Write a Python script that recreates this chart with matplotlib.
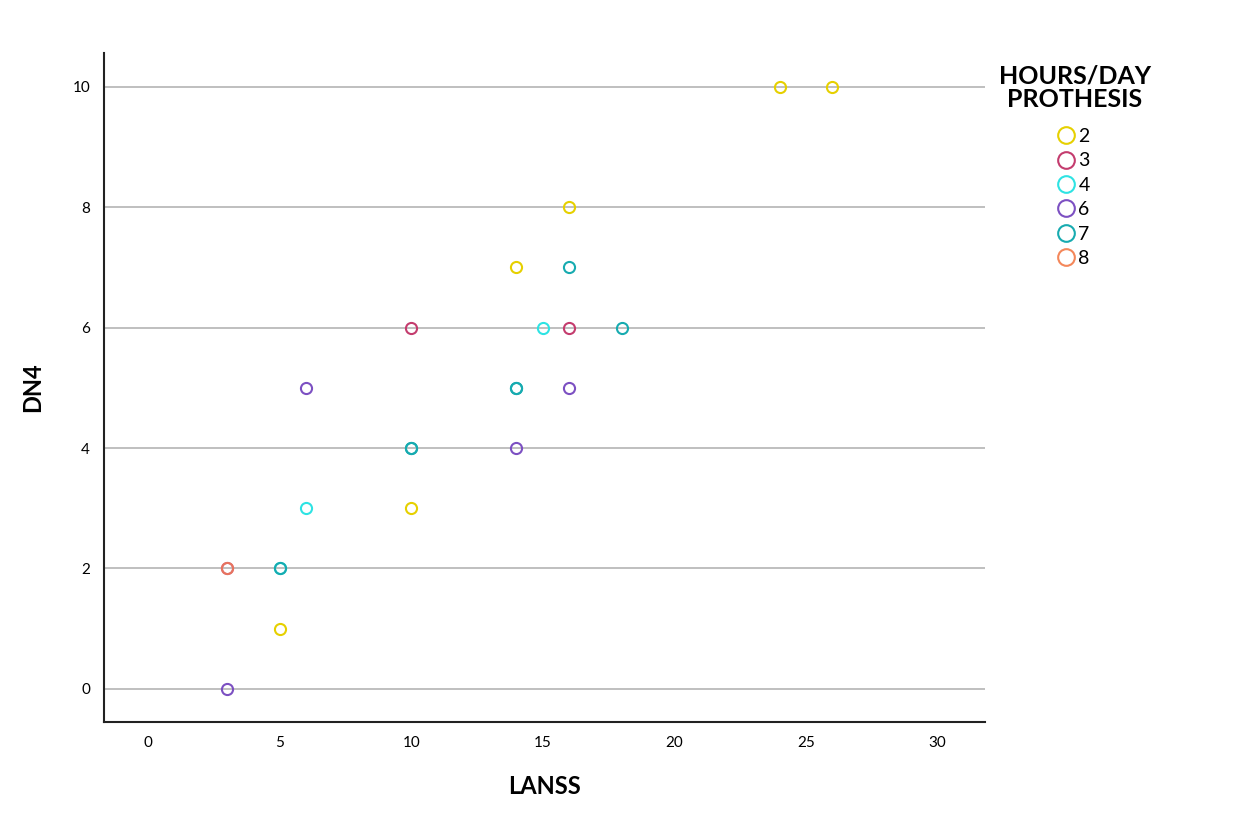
import matplotlib.pyplot as plt
from matplotlib.lines import Line2D

plt.rcParams['font.family'] = ['Lato', 'DejaVu Sans']

# data: hours/day prothesis groups, (LANSS, DN4)
groups = ["2", "3", "4", "6", "7", "8"]
lanss_2 = [24, 26, 16, 14, 10, 5]
dn4_2 = [10, 10, 8, 7, 3, 1]
lanss_3 = [10, 16, 3]
dn4_3 = [6, 6, 2]
lanss_4 = [15, 6, 5]
dn4_4 = [6, 3, 2]
lanss_6 = [6, 16, 14, 3]
dn4_6 = [5, 5, 4, 0]
lanss_7 = [16, 18, 14, 14, 10, 10, 5]
dn4_7 = [7, 6, 5, 5, 4, 4, 2]
lanss_8 = [3]
dn4_8 = [2]

colors = {"2": "#e6d000", "3": "#c43c6e", "4": "#2ee3e3",
          "6": "#7c50c2", "7": "#17abb0", "8": "#f4875a"}

series = {"2": (lanss_2, dn4_2), "3": (lanss_3, dn4_3), "4": (lanss_4, dn4_4),
          "6": (lanss_6, dn4_6), "7": (lanss_7, dn4_7), "8": (lanss_8, dn4_8)}

fig = plt.figure(figsize=(12.43, 8.35), dpi=100)
ax = fig.add_axes([0.0837, 0.1353, 0.7087, 0.8012])

for g in groups:
    x, y = series[g]
    # group 8 sits on top of a group 3 point, so blend it a little
    a = 0.75 if g == "8" else 1.0
    ax.plot(x, y, linestyle="none", marker="o", markersize=8,
            markerfacecolor="none", markeredgecolor=colors[g],
            markeredgewidth=1.5, alpha=a, zorder=3)

ax.set_xlim(-1.67, 31.8)
ax.set_ylim(-0.55, 10.56)
ax.set_xticks([0, 5, 10, 15, 20, 25, 30])
ax.set_yticks([0, 2, 4, 6, 8, 10])
ax.yaxis.grid(True, color="#b4b4b4", linewidth=1.2)
ax.set_axisbelow(True)
ax.tick_params(length=0, labelsize=11, pad=10)
for s in ["top", "right"]:
    ax.spines[s].set_visible(False)
for s in ["left", "bottom"]:
    ax.spines[s].set_linewidth(1.5)
    ax.spines[s].set_color("#222222")

ax.set_xlabel("LANSS", fontsize=17, fontweight="bold", labelpad=18)
ax.set_ylabel("DN4", fontsize=17, fontweight="bold", labelpad=20)

# legend title drawn separately so it can be centred above the entries
fig.text(1075 / 1243, 1 - 88 / 835, "HOURS/DAY\nPROTHESIS", ha="center",
         va="center", fontsize=18, fontweight="bold", linespacing=1.05,
         multialignment="center")

handles = [Line2D([], [], linestyle="none", marker="o", markersize=12,
                  markerfacecolor="none", markeredgecolor=colors[g],
                  markeredgewidth=1.5) for g in groups]
fig.legend(handles, groups, loc="upper left",
           bbox_to_anchor=(1058 / 1243, 1 - 128 / 835),
           frameon=False, fontsize=14, handlelength=0.8,
           handletextpad=0.25, labelspacing=0.38, borderpad=0,
           borderaxespad=0)

fig.savefig("out.png", dpi=100)
